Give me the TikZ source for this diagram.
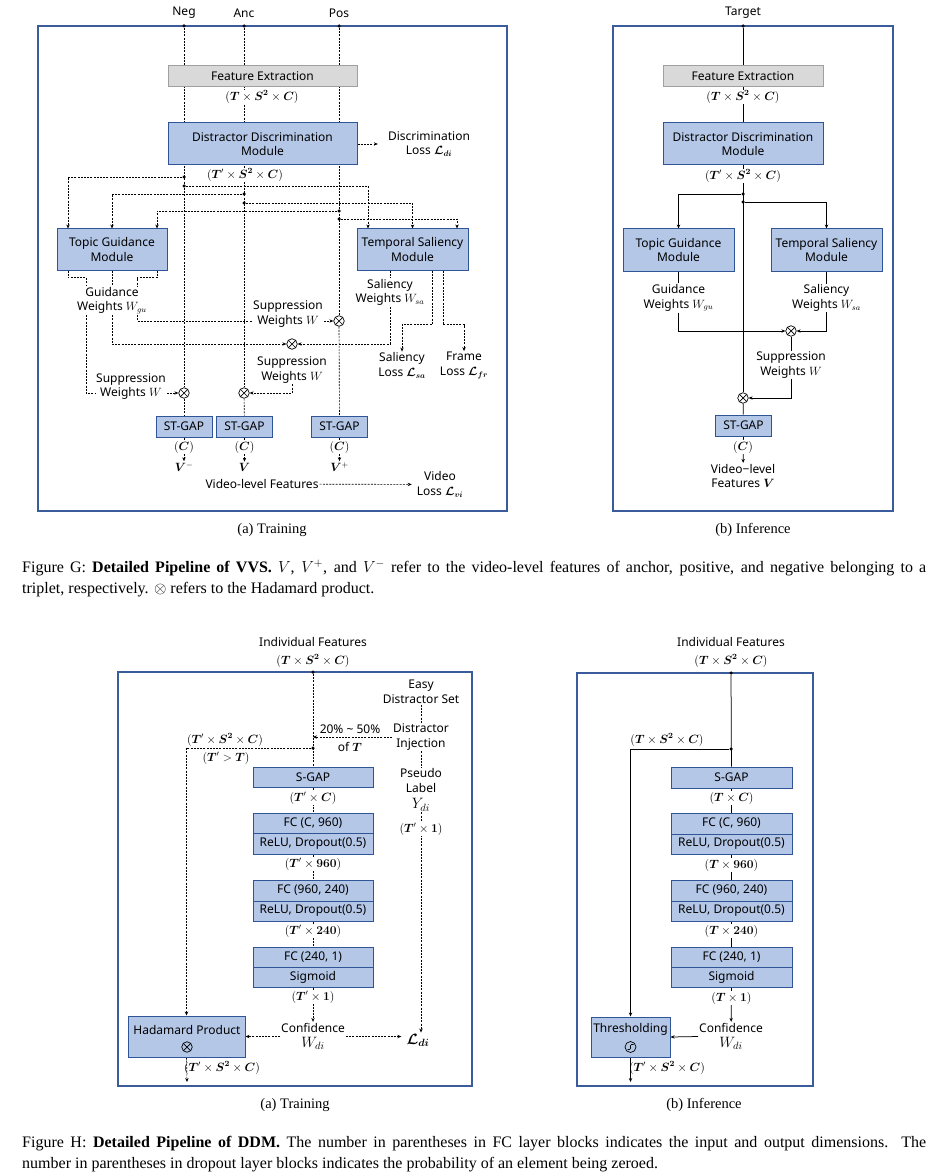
\RequirePackage{fix-cm}
\documentclass[tikz,border=0pt]{standalone}
\usepackage{amsmath,bm}
\usepackage{fontspec}
\setmainfont{Liberation Serif}
\newfontfamily\labfont{Noto Sans}
\usetikzlibrary{arrows.meta,calc}
\definecolor{bfill}{HTML}{B4C7E7}
\definecolor{bdr}{HTML}{2F5597}
\definecolor{frm}{HTML}{3A5C9C}
\definecolor{gfill}{HTML}{D9D9D9}
\definecolor{gbdr}{HTML}{A0A0A0}
\newcommand\lab{\labfont\fontsize{12}{14.5}\selectfont}
\newcommand\mybigsz{\fontsize{15}{15}\selectfont}
\pgfdeclarelayer{bg}\pgfsetlayers{bg,main}
\tikzset{
 blk/.style={draw=bdr, fill=bfill, line width=1pt, inner sep=0pt, align=center, font=\lab},
 gblk/.style={draw=gbdr, fill=gfill, line width=1pt, inner sep=0pt, align=center, font=\lab},
 lbl/.style={inner sep=1pt, align=center, font=\lab},
 wl/.style={lbl, fill=white},
 frm box/.style={draw=frm, line width=1.1pt},
 dl/.style={line width=0.65pt, dash pattern=on 2pt off 1.2pt},
 sl/.style={line width=0.75pt},
 arr/.style={-{Stealth[length=4pt,width=3.4pt]}},
 ox/.style={circle, draw, line width=0.7pt, fill=white, minimum size=10.5pt, inner sep=0pt,
   path picture={\draw[line width=0.7pt] (path picture bounding box.north west)--(path picture bounding box.south east) (path picture bounding box.north east)--(path picture bounding box.south west);}},
 jd/.style={circle, fill, inner sep=0pt, minimum size=3.5pt},
 subcaption/.style={inner sep=0pt, font=\fontsize{14.5}{17}\selectfont},
 longcaption/.style={anchor=base west, inner sep=0pt, font=\fontsize{16}{21}\selectfont},
}
\begin{document}
\begin{tikzpicture}[x=1pt,y=-1pt]
\useasboundingbox (0,0) rectangle (930,1174);

%% ================= Figure G (a) Training =================
\draw[frm box] (38,26) rectangle (507,511);
\node[lbl] (neg) at (184,13) {Neg};
\node[lbl] (anc) at (244,13) {Anc};
\node[lbl] (pos) at (339,13) {Pos};
\node[jd] (negT) at (184,26) {};
\node[jd] (ancT) at (244,26) {};
\node[jd] (posT) at (339,26) {};
\node[gblk, minimum width=189pt, minimum height=21pt] (feA) at (262.5,76.5) {Feature Extraction};
\node[wl] (dA1) at (262,97) {$(\bm T\times\bm S^{\bm 2}\times\bm C)$};
\node[blk, minimum width=189pt, minimum height=42pt] (ddmA) at (262.5,144) {Distractor Discrimination\\Module};
\node[lbl] (dlA) at (429,144) {Discrimination\\Loss $\bm{\mathcal L}_{\bm{di}}$};
\node[wl] (dA2) at (245,175) {$(\bm T'\times\bm S^{\bm 2}\times\bm C)$};
\node[jd] (jN1) at (184,177) {};
\node[jd] (jN2) at (184,186) {};
\node[jd] (jA1) at (244,194) {};
\node[jd] (jA2) at (244,203) {};
\node[jd] (jP1) at (339,211) {};
\node[jd] (jP2) at (339,219) {};
\node[blk, minimum width=110pt, minimum height=41pt] (tgmA) at (112,249.5) {Topic Guidance\\Module};
\node[blk, minimum width=111pt, minimum height=41pt] (tsmA) at (412.5,249.5) {Temporal Saliency\\Module};
\node[lbl] (gwA) at (112,300.5) {Guidance\\Weights $W_{gu}$};
\node[lbl] (swA) at (390,292.5) {Saliency\\Weights $W_{sa}$};
\node[lbl] (sw1) at (131,386.5) {Suppression\\Weights $W$};
\node[lbl] (sw2) at (288,314) {Suppression\\Weights $W$};
\node[lbl] (sw3) at (292,370) {Suppression\\Weights $W$};
\node[ox] (oxN) at (184,393) {};
\node[ox] (oxA) at (244,393) {};
\node[ox] (oxP) at (339,321) {};
\node[ox] (oxM) at (292,344) {};
\node[lbl] (slA) at (402,365.5) {Saliency\\Loss $\bm{\mathcal L}_{\bm{sa}}$};
\node[lbl] (flA) at (464,365.5) {Frame\\Loss $\bm{\mathcal L}_{\bm{fr}}$};
\node[blk, minimum width=56pt, minimum height=21pt] (stN) at (184,426.5) {ST-GAP};
\node[blk, minimum width=56pt, minimum height=21pt] (stA) at (244.5,426.5) {ST-GAP};
\node[blk, minimum width=56pt, minimum height=21pt] (stP) at (339.5,426.5) {ST-GAP};
\node[wl] (cN) at (184,447) {$(\bm C)$};
\node[wl] (cA) at (244.5,447) {$(\bm C)$};
\node[wl] (cP) at (339.5,447) {$(\bm C)$};
\node[lbl] (vN) at (184,467) {$\bm V^{-}$};
\node[lbl] (vA) at (244.5,467) {$\bm V$};
\node[lbl] (vP) at (339.5,467) {$\bm V^{+}$};
\node[lbl] (vlf) at (262,484) {Video-level Features};
\node[lbl] (vloss) at (440,484.5) {Video\\Loss $\bm{\mathcal L}_{\bm{vi}}$};

%% ================= Figure G (b) Inference =================
\draw[frm box] (613,26) rectangle (893,511);
\node[lbl] (tgt) at (743,13) {Target};
\node[jd] (tgtT) at (743,26) {};
\node[gblk, minimum width=160pt, minimum height=21pt] (feB) at (743,76.5) {Feature Extraction};
\node[wl] (dB1) at (743,97) {$(\bm T\times\bm S^{\bm 2}\times\bm C)$};
\node[blk, minimum width=160pt, minimum height=42pt] (ddmB) at (743,144) {Distractor Discrimination\\Module};
\node[wl] (dB2) at (743,176) {$(\bm T'\times\bm S^{\bm 2}\times\bm C)$};
\node[jd] (jB1) at (743,194) {};
\node[jd] (jB2) at (743,202) {};
\node[blk, minimum width=111pt, minimum height=42pt] (tgmB) at (678.5,250) {Topic Guidance\\Module};
\node[blk, minimum width=111pt, minimum height=42pt] (tsmB) at (826.5,250) {Temporal Saliency\\Module};
\node[lbl] (gwB) at (678.5,298) {Guidance\\Weights $W_{gu}$};
\node[lbl] (swB) at (826.5,298) {Saliency\\Weights $W_{sa}$};
\node[ox] (oxB1) at (791,331) {};
\node[lbl] (supB) at (791,365) {Suppression\\Weights $W$};
\node[ox] (oxB2) at (743,398) {};
\node[blk, minimum width=56pt, minimum height=21pt] (stB) at (743.5,425.5) {ST-GAP};
\node[wl] (cB) at (743,447) {$(\bm C)$};
\node[lbl] (vlB) at (743,476) {Video−level\\Features $\bm V$};

\node[subcaption] (capGa) at (272,530) {(a) Training};
\node[subcaption] (capGb) at (753,530) {(b) Inference};
\node[longcaption] (cG1) at (22,572) {\makebox[904pt][s]{Figure G: \textbf{Detailed Pipeline of VVS.} $V$, $V^{+}$, and $V^{-}$ refer to the video-level features of anchor, positive, and negative belonging to a}};
\node[longcaption] (cG2) at (22,593) {triplet, respectively. $\otimes$ refers to the Hadamard product.};

%% ================= Figure H (a) Training =================
\node[lbl] (ifA) at (313,642) {Individual Features};
\node[lbl] (ifdA) at (313,661) {$(\bm T\times\bm S^{\bm 2}\times\bm C)$};
\draw[frm box] (118,672) rectangle (472,1086);
\node[jd] (hTa) at (313,672) {};
\node[jd] (hJa) at (313,748) {};
\coordinate (hIa) at (313,737);
\node[lbl] (pctA) at (350,729) {20\% \textasciitilde{} 50\%};
\node[lbl] (ofTA) at (350,747) {of $\bm T$};
\node[lbl] (edsA) at (421,692) {Easy\\Distractor Set};
\node[lbl] (dinjA) at (421,737) {Distractor\\Injection};
\node[lbl] (plA) at (421,790) {Pseudo\\Label\\[2pt]{\mybigsz$Y_{di}$}};
\node[wl] (pdA) at (421,829) {$(\bm T'\times\bm 1)$};
\node[lbl] (t1A) at (225,740) {$(\bm T'\times\bm S^{\bm 2}\times\bm C)$};
\node[lbl] (t2A) at (226,758) {$(\bm T'>\bm T)$};
\node[blk, minimum width=120pt, minimum height=20pt] (sgA) at (313,777) {S-GAP};
\node[wl] (d1A) at (313,798) {$(\bm T'\times\bm C)$};
\node[blk, minimum width=120pt, minimum height=20pt] (f1tA) at (313,823) {FC (C, 960)};
\node[blk, minimum width=120pt, minimum height=21pt] (f1bA) at (313,843.5) {ReLU, Dropout(0.5)};
\node[wl] (d2A) at (313,864) {$(\bm T'\times\bm{960})$};
\node[blk, minimum width=120pt, minimum height=21pt] (f2tA) at (313,890.5) {FC (960, 240)};
\node[blk, minimum width=120pt, minimum height=20pt] (f2bA) at (313,911) {ReLU, Dropout(0.5)};
\node[wl] (d3A) at (313,931) {$(\bm T'\times\bm{240})$};
\node[blk, minimum width=120pt, minimum height=20pt] (f3tA) at (313,957) {FC (240, 1)};
\node[blk, minimum width=120pt, minimum height=20pt] (f3bA) at (313,977) {Sigmoid};
\node[wl] (d4A) at (313,997) {$(\bm T'\times\bm 1)$};
\node[lbl] (cfA) at (313,1036.5) {Confidence\\[1pt]{\mybigsz$W_{di}$}};
\node[lbl, font=\fontsize{15}{17}\selectfont] (ldiA) at (418,1040) {$\bm{\mathcal L}_{\bm{di}}$};
\node[blk, minimum width=117pt, minimum height=41pt] (hadA) at (186.5,1036.5) {};
\node[lbl] (hadTA) at (187,1030) {Hadamard Product};
\node[ox, fill=none] (hadOA) at (187,1047) {};
\node[lbl] (hoA) at (222,1068) {$(\bm T'\times\bm S^{\bm 2}\times\bm C)$};
\coordinate (hEndA) at (187,1082);

%% ================= Figure H (b) Inference =================
\node[lbl] (ifB) at (731,642) {Individual Features};
\node[lbl] (ifdB) at (731,661) {$(\bm T\times\bm S^{\bm 2}\times\bm C)$};
\draw[frm box] (577,673) rectangle (813,1086);
\node[jd] (hTb) at (731,673) {};
\node[jd] (hJb) at (731,749) {};
\node[lbl] (t1B) at (667,740) {$(\bm T\times\bm S^{\bm 2}\times\bm C)$};
\node[blk, minimum width=121pt, minimum height=21pt] (sgB) at (731.5,777.5) {S-GAP};
\node[wl] (d1B) at (731.5,798) {$(\bm T\times\bm C)$};
\node[blk, minimum width=121pt, minimum height=21pt] (f1tB) at (731.5,823.5) {FC (C, 960)};
\node[blk, minimum width=121pt, minimum height=20pt] (f1bB) at (731.5,844) {ReLU, Dropout(0.5)};
\node[wl] (d2B) at (731.5,865) {$(\bm T\times\bm{960})$};
\node[blk, minimum width=121pt, minimum height=21pt] (f2tB) at (731.5,890.5) {FC (960, 240)};
\node[blk, minimum width=121pt, minimum height=20pt] (f2bB) at (731.5,911) {ReLU, Dropout(0.5)};
\node[wl] (d3B) at (731.5,931) {$(\bm T\times\bm{240})$};
\node[blk, minimum width=121pt, minimum height=20pt] (f3tB) at (731.5,957) {FC (240, 1)};
\node[blk, minimum width=121pt, minimum height=20pt] (f3bB) at (731.5,977) {Sigmoid};
\node[wl] (d4B) at (731.5,998) {$(\bm T\times\bm 1)$};
\node[lbl] (cfB) at (731,1036.5) {Confidence\\[1pt]{\mybigsz$W_{di}$}};
\node[blk, minimum width=79pt, minimum height=40pt] (thB) at (630.5,1037) {};
\node[lbl] (thTB) at (630.5,1029) {Thresholding};
\node[circle, draw, line width=0.7pt, minimum size=11pt, inner sep=0pt,
  path picture={\draw[line width=0.6pt, rounded corners=1pt] ([shift={(-3pt,-2.5pt)}]path picture bounding box.center) -- ++(3pt,0pt) -- ++(0pt,5pt) -- ++(3pt,0pt);}] (stepB) at (630.5,1047) {};
\node[lbl] (hoB) at (667,1068) {$(\bm T'\times\bm S^{\bm 2}\times\bm C)$};
\coordinate (tEndB) at (630.5,1082);

\node[subcaption] (capHa) at (295,1105) {(a) Training};
\node[subcaption] (capHb) at (704,1105) {(b) Inference};
\node[longcaption] (cH1) at (22,1147) {\makebox[904pt][s]{Figure H: \textbf{Detailed Pipeline of DDM.} The number in parentheses in FC layer blocks indicates the input and output dimensions.\ \ The}};
\node[longcaption] (cH2) at (22,1168) {number in parentheses in dropout layer blocks indicates the probability of an element being zeroed.};

%% ================= connectors =================
\begin{pgfonlayer}{bg}
% G(a)
\draw[dl] (negT) -- (oxN);
\draw[dl] (ancT) -- (oxA);
\draw[dl] (posT) -- (oxP);
\draw[dl] (oxN) -- (stN);
\draw[dl] (oxA) -- (stA);
\draw[dl] (oxP) -- (stP);
\draw[dl,arr,shorten >=9pt] (ddmA) -- (dlA);
\draw[dl,arr] (jN1) -| ([xshift=-44pt]tgmA.north);
\draw[dl,arr] (jA1) -| (tgmA.north);
\draw[dl,arr] (jP1) -| ([xshift=45pt]tgmA.north);
\draw[dl,arr] (jN2) -| ([xshift=-44.5pt]tsmA.north);
\draw[dl,arr] (jA2) -| (tsmA.north);
\draw[dl,arr] (jP2) -| ([xshift=44.5pt]tsmA.north);
\draw[dl] ([xshift=-44pt]tgmA.south) -- ++(0,7) -| ([xshift=-26pt]gwA.north);
\draw[dl] (tgmA.south) -- (gwA.north);
\draw[dl] ([xshift=45pt]tgmA.south) -- ++(0,7) -| ([xshift=25pt]gwA.north);
\draw[dl] ([xshift=-26pt]gwA.south) |- (sw1.west |- oxN);
\draw[dl,arr] (sw1.east |- oxN) -- (oxN);
\draw[dl,arr] (gwA.south) |- (oxM);
\draw[dl] ([xshift=25pt]gwA.south) |- (sw2.west |- oxP);
\draw[dl,arr] (sw2.east |- oxP) -- (oxP);
\draw[dl] ([xshift=-22.5pt]tsmA.south) -- (swA.north);
\draw[dl,arr] (swA.south) |- (oxM);
\draw[dl,arr] ([xshift=19.5pt]tsmA.south) -- ++(0,54) -| (slA.north);
\draw[dl,arr] ([xshift=30.5pt]tsmA.south) -- ++(0,54) -| (flA.north);
\draw[dl,arr] (sw3.south) |- (oxA);
\draw[dl,arr] (stN) -- (vN);
\draw[dl,arr] (stA) -- (vA);
\draw[dl,arr] (stP) -- (vP);
\draw[dl,arr,shorten >=4pt] (vlf) -- (vloss);
% G(b)
\draw[sl] (tgtT) -- (oxB2);
\draw[sl,arr] (jB1) -| (tgmB.north);
\draw[sl,arr] (jB2) -| (tsmB.north);
\draw[sl] (tgmB.south) -- (gwB.north);
\draw[sl] (tsmB.south) -- (swB.north);
\draw[sl,arr] (gwB.south) |- (oxB1);
\draw[sl,arr] (swB.south) |- (oxB1);
\draw[sl] (oxB1) -- (supB);
\draw[sl,arr] (supB.south) |- (oxB2);
\draw[sl] (oxB2) -- (stB);
\draw[sl,arr] (stB) -- (vlB);
% H(a)
\draw[dl] (hTa) -- (sgA);
\draw[dl,arr] (dinjA.west) -- (hIa);
\draw[dl] (edsA) -- (dinjA);
\draw[dl] (dinjA) -- (plA);
\draw[dl,arr] (plA.south) -- (plA.south |- ldiA.north);
\draw[dl,arr] (hJa) -| (hadA.north);
\draw[dl] (sgA) -- (f1tA);
\draw[dl] (f1bA) -- (f2tA);
\draw[dl] (f2bA) -- (f3tA);
\draw[dl,arr] (f3bA) -- (cfA);
\draw[dl,arr] (cfA.west) -- (hadA.east);
\draw[dl,arr,shorten >=4pt] (cfA.east) -- (cfA.east -| ldiA.west);
\draw[dl,arr] (hadA.south) -- (hEndA);
% H(b)
\draw[sl] (hTb) -- (sgB);
\draw[sl,arr] (hJb) -| (thB.north);
\draw[sl] (sgB) -- (f1tB);
\draw[sl] (f1bB) -- (f2tB);
\draw[sl] (f2bB) -- (f3tB);
\draw[sl,arr] (f3bB) -- (cfB);
\draw[sl,arr] (cfB.west) -- (thB.east);
\draw[sl,arr] (thB.south) -- (tEndB);
\end{pgfonlayer}
\end{tikzpicture}
\end{document}
